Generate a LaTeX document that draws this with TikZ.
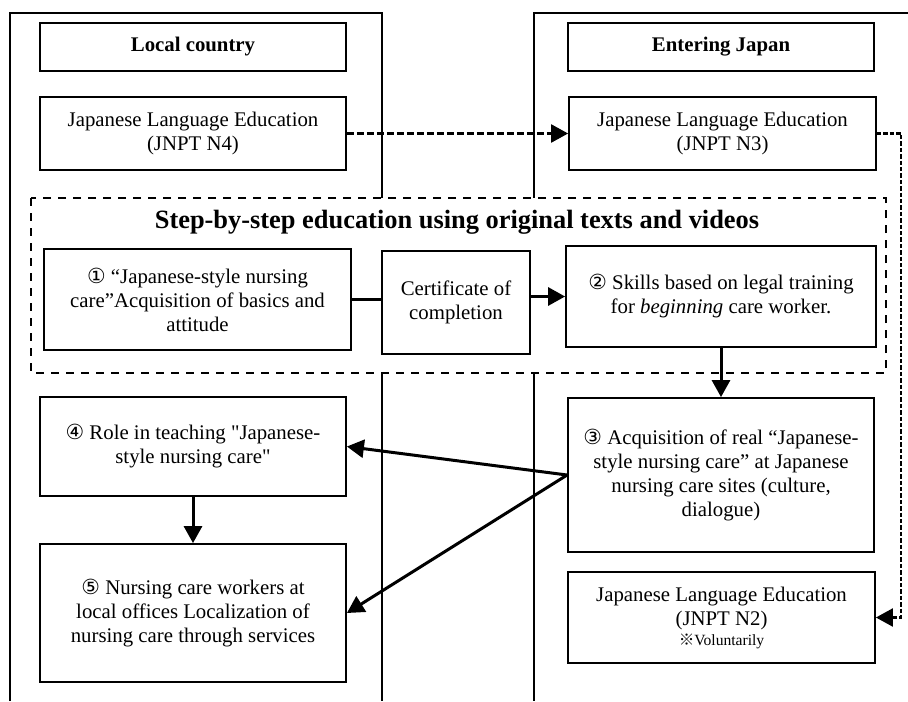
\documentclass[tikz,border=0pt]{standalone}
\usepackage{fontspec}
\setmainfont{Liberation Serif}[Ligatures=TeXOff]
\newfontfamily\circfont{DejaVu Sans}
\newfontfamily\markfont{Noto Sans CJK JP}
\usetikzlibrary{arrows.meta}
\def\careblock{\node[draw, line width=0.9pt, align=center, inner sep=0pt, font=\fontsize{10.4}{12}\selectfont]}
\def\drawflow{\draw[line width=1.5pt, -{Triangle[length=8.5pt,width=9pt]}]}
\def\drawdash{\draw[line width=1.2pt, dash pattern=on 3.3pt off 1.7pt, -{Triangle[length=8.5pt,width=9pt]}]}
\def\drawframe{\draw[line width=0.6pt]}
\newcommand{\cnum}[1]{{\circfont #1}}

\begin{document}
\begin{tikzpicture}[x=0.5pt,y=-0.5pt]
\useasboundingbox (0,0) rectangle (908,701);
\drawframe (10,701) -- (10,13) -- (382,13) -- (382,198);
\drawframe (382,373) -- (382,701);
\drawframe (908,13) -- (534,13) -- (534,198);
\drawframe (534,373) -- (534,701);
\draw[line width=1.2pt, dash pattern=on 4.2pt off 3.3pt] (31,198) rectangle (886,373);
\node[font=\fontsize{13.2}{15}\selectfont\bfseries] (steps) at (457,222) {Step-by-step education using original texts and videos};
\careblock[minimum width=153pt, minimum height=24pt] (local) at (193,47) {\textbf{Local country}};
\careblock[minimum width=153pt, minimum height=36.5pt] (n4) at (193,133.5) {Japanese Language Education\\(JNPT N4)};
\careblock[minimum width=153pt, minimum height=24pt] (japan) at (721,47) {\textbf{Entering Japan}};
\careblock[minimum width=153.5pt, minimum height=36.5pt] (n3) at (722.5,133.5) {Japanese Language Education\\(JNPT N3)};
\careblock[minimum width=153.5pt, minimum height=50.5pt] (basics) at (197.5,299.5) {\cnum{①} “Japanese-style nursing\\care”Acquisition of basics and\\attitude};
\careblock[minimum width=74pt, minimum height=51.5pt] (cert) at (456,302.5) {Certificate of\\completion};
\careblock[minimum width=155pt, minimum height=50.5pt] (skills) at (721,296.5) {\cnum{②} Skills based on legal training\\for \textit{beginning} care worker.};
\careblock[minimum width=153pt, minimum height=77pt] (sites) at (721,475) {\cnum{③} Acquisition of real “Japanese-\\style nursing care” at Japanese\\nursing care sites (culture,\\dialogue)};
\careblock[minimum width=153.5pt, minimum height=45.5pt] (n2) at (721.5,617.5) {Japanese Language Education\\(JNPT N2)\\[-2pt]{\fontsize{7.8}{9}\selectfont{\markfont ※}Voluntarily}};
\careblock[minimum width=153pt, minimum height=49.5pt] (role) at (193,446.5) {\cnum{④} Role in teaching "Japanese-\\style nursing care"};
\careblock[minimum width=153pt, minimum height=69pt] (local5) at (193,613) {\cnum{⑤} Nursing care workers at\\local offices Localization of\\nursing care through services};
\coordinate (bend) at (901,133.5);
\drawdash (n4.east) -- (n3.west);
\draw[line width=1.1pt, dash pattern=on 2.2pt off 1pt, -{Triangle[length=8.5pt,width=9pt]}] (n3.east) -| (bend) |- (n2.east);
\draw[line width=1.5pt] (basics.east) -- (basics.east -| cert.west);
\drawflow (cert.east |- skills.west) -- (skills.west);
\drawflow (skills.south) -- (skills.south |- sites.north);
\drawflow (sites.west) -- (role.east);
\drawflow (sites.west) -- (local5.east);
\drawflow (role.south) -- (local5.north);
\end{tikzpicture}
\end{document}
